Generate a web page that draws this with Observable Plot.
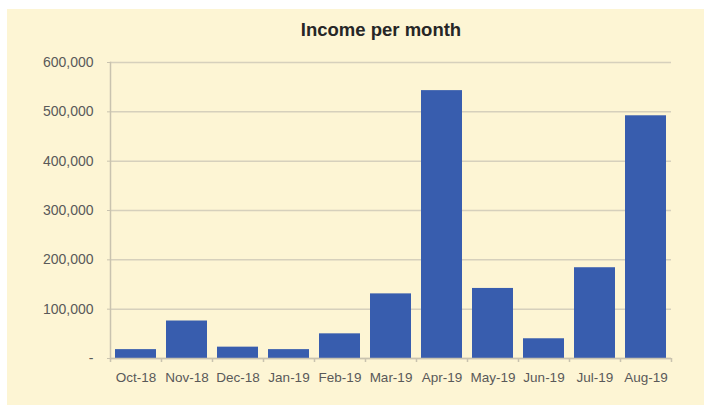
<!DOCTYPE html>
<html><head><meta charset="utf-8">
<script src="https://cdn.jsdelivr.net/npm/d3@7"></script>
<script src="https://cdn.jsdelivr.net/npm/@observablehq/plot@0.6"></script>
<style>
html,body{margin:0;padding:0;background:#fff;}
#wrap{position:relative;width:704px;height:405px;overflow:hidden;}
#bg{position:absolute;left:7px;top:9px;width:697px;height:396px;background:#FDF5D4;}
#title{position:absolute;left:231px;width:300px;top:19px;text-align:center;font:bold 18.5px "Liberation Sans",Arial,sans-serif;color:#262626;}
#chart{position:absolute;left:0;top:0;}
</style></head><body>
<div id="wrap"><div id="bg"></div><div id="title">Income per month</div><div id="chart"></div></div>
<script>
const months = ["Oct-18","Nov-18","Dec-18","Jan-19","Feb-19","Mar-19","Apr-19","May-19","Jun-19","Jul-19","Aug-19"];
const income = [18000, 76000, 23000, 18000, 50000, 131000, 543000, 142000, 40000, 184000, 492000];
const yTicks = [0, 100000, 200000, 300000, 400000, 500000, 600000];

const data = months.map((m, i) => ({month: m, income: income[i]}));
const fmt = d => d === 0 ? "-" : d3.format(",")(d);
const W = 704, ML = 110, MR = 33;
const step = (W - ML - MR) / months.length;
const axisGray = "#C9C3AF";

const chart = Plot.plot({
  width: W, height: 405,
  marginTop: 62, marginBottom: 47, marginLeft: ML, marginRight: MR,
  style: {background: "transparent", fontFamily: "Liberation Sans, Arial, sans-serif", fontSize: "13.5px", color: "#595959"},
  x: {domain: months, paddingInner: 0.2, paddingOuter: 0.1, label: null},
  y: {domain: [0, 600000], label: null},
  marks: [
    Plot.gridY(yTicks, {stroke: "#D6D0BC", strokeOpacity: 1, strokeWidth: 1.5}),
    Plot.barY(data, {x: "month", y: "income", fill: "#385DAE"}),
    Plot.frame({anchor: "left", stroke: axisGray, strokeWidth: 1.5}),
    Plot.ruleY([0], {stroke: axisGray, strokeWidth: 1.5}),
    Plot.ruleX(months, {x: d => d, y1: 0, y2: 0, dx: -step / 2, insetBottom: -4, stroke: axisGray, strokeWidth: 1.5}),
    Plot.ruleX([months[months.length - 1]], {x: d => d, y1: 0, y2: 0, dx: step / 2, insetBottom: -4, stroke: axisGray, strokeWidth: 1.5}),
    Plot.axisY(yTicks, {tickSize: 3, tickPadding: 14, tickFormat: fmt, stroke: axisGray, fill: "#595959", fontSize: 14, label: null}),
    Plot.axisX({tickSize: 0, tickPadding: 14, fill: "#595959", fontSize: 13.5, label: null})
  ]
});
document.getElementById("chart").appendChild(chart);
</script>
</body></html>
